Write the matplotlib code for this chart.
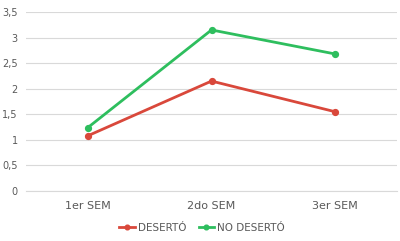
import matplotlib
matplotlib.use("Agg")
import matplotlib.pyplot as plt
from matplotlib.ticker import FuncFormatter

categories = ["1er SEM", "2do SEM", "3er SEM"]
deserto = [1.08, 2.15, 1.55]
no_deserto = [1.24, 3.15, 2.68]
series_names = ["DESERTÓ", "NO DESERTÓ"]
yticks = [0, 0.5, 1, 1.5, 2, 2.5, 3, 3.5]

red = "#D9483B"
green = "#2EBE5E"
txt = "#595959"

plt.rcParams['font.family'] = ['DejaVu Sans']
fig = plt.figure(figsize=(4, 2.41), dpi=100)
ax = fig.add_axes([0.065, 0.2075, 0.9275, 0.7425])

x = list(range(len(categories)))
ax.plot(x, deserto, color=red, lw=2.0, marker="o", ms=4.2, label=series_names[0])
ax.plot(x, no_deserto, color=green, lw=2.0, marker="o", ms=4.2, label=series_names[1])

ax.set_xlim(-0.5, len(categories) - 0.5)
ax.set_ylim(0, 3.5)
ax.set_yticks(yticks)
ax.yaxis.set_major_formatter(FuncFormatter(lambda v, p: ("%g" % v).replace(".", ",")))
ax.set_xticks(x)
ax.set_xticklabels(categories)
ax.grid(axis="y", color="#D9D9D9", lw=0.8)
ax.set_axisbelow(True)
for s in ["top", "right", "left"]:
    ax.spines[s].set_visible(False)
ax.spines["bottom"].set_color("#D9D9D9")
ax.tick_params(axis="y", length=0, labelsize=7, labelcolor=txt, pad=6)
ax.tick_params(axis="x", length=0, labelsize=8, labelcolor=txt, pad=7)

leg = fig.legend(loc="center", bbox_to_anchor=(0.505, 0.055), ncol=2, frameon=False,
                 fontsize=7.5, handlelength=1.5, handletextpad=0.3, columnspacing=1.2,
                 markerscale=0.8)
for t in leg.get_texts():
    t.set_color(txt)

fig.savefig("out.png", dpi=100)
